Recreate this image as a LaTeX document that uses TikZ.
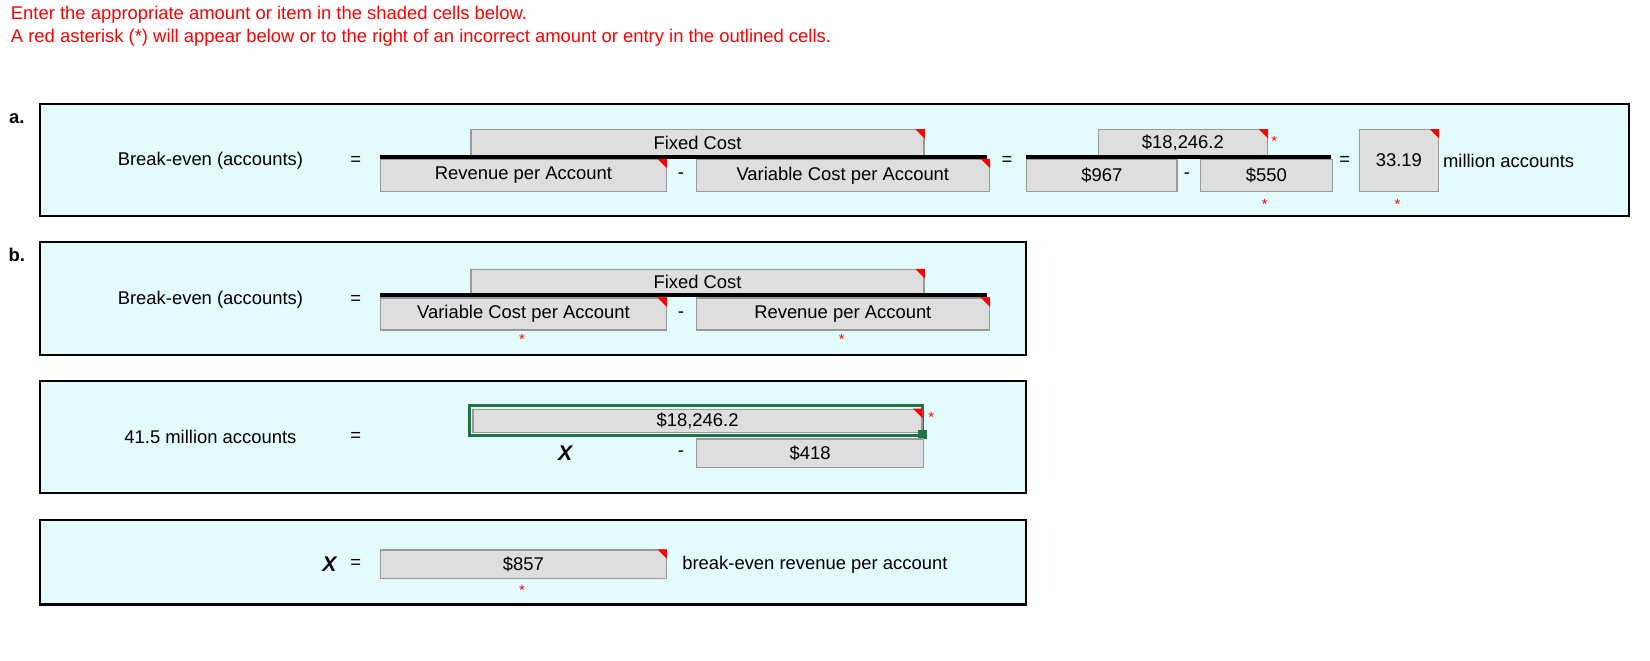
\documentclass[tikz,border=0pt]{standalone}
\usepackage{fontspec}
\setmainfont{Liberation Sans}
\definecolor{bgc}{HTML}{E4FBFD}
\definecolor{cellc}{HTML}{DEDEDE}
\definecolor{grn}{HTML}{217346}
\newcommand\cellbox[6]{\node[cellst,minimum width=#4*0.5pt,minimum height=#5*0.5pt,anchor=north west] (#1) at (#2,#3) {#6};}
\newcommand\corner[1]{\fill[red] (#1.north east) -- ++(-4.5pt,0) -- ++(4.5pt,-4.5pt) -- cycle;}
\begin{document}
\begin{tikzpicture}[x=0.497pt,y=-0.5pt,
  every node/.style={font=\fontsize{8.7}{10}\selectfont,inner sep=0pt},
  cellst/.style={fill=cellc,draw=gray!80,line width=0.6pt},
  panel/.style={fill=bgc,draw=black,line width=1pt},
  bar/.style={line width=2pt},
  ast/.style={text=red,font=\fontsize{7}{8}\selectfont},
  hdr/.style={text=red,anchor=west}]
\useasboundingbox (0,0) rectangle (1568,624);
\fill[white] (0,0) rectangle (1568,624);
\node[hdr] (h1) at (10,14) {Enter the appropriate amount or item in the shaded cells below.};
\node[hdr] (h2) at (10,36) {A red asterisk (*) will appear below or to the right of an incorrect amount or entry in the outlined cells.};
% panel a
\node[font=\fontsize{8.7}{10}\selectfont\bfseries] (la) at (16,112) {a.};
\draw[panel] (38,98) rectangle (1548,204);
\node (bea) at (200,152) {Break-even (accounts)};
\node (eqa1) at (338,152) {=};
\cellbox{fca}{447}{122}{428}{25}{Fixed Cost}\corner{fca}
\draw[bar] (361,148) -- (938,148);
\cellbox{rpa}{361}{150}{270}{30}{Revenue per Account}\corner{rpa}
\node (ma1) at (647,166) {-};
\cellbox{vca}{661}{150}{277}{30}{Variable Cost per Account}\corner{vca}
\node (eqa2) at (957,152) {=};
\cellbox{fcv}{1043}{122}{160}{25}{\$18,246.2}\corner{fcv}
\node[ast] (s1) at (1211,134) {*};
\draw[bar] (975,148) -- (1265,148);
\cellbox{rv}{975}{150}{142}{30}{\$967}
\node (ma2) at (1128,166) {-};
\cellbox{vv}{1140}{150}{125}{30}{\$550}
\node[ast] (s2) at (1202,193) {*};
\node (eqa3) at (1278,152) {=};
\cellbox{res}{1291}{122}{75}{58}{33.19}\corner{res}
\node[ast] (s3) at (1328,193) {*};
\node[anchor=west] (mil) at (1371,152) {million accounts};
% panel b
\node[font=\fontsize{8.7}{10}\selectfont\bfseries] (lb) at (16,241) {b.};
\draw[panel] (38,229) rectangle (975,335);
\node (beb) at (200,283) {Break-even (accounts)};
\node (eqb) at (338,283) {=};
\cellbox{fcb}{447}{254}{428}{24}{Fixed Cost}\corner{fcb}
\draw[bar] (361,279) -- (938,279);
\cellbox{vcb}{361}{281}{270}{30}{Variable Cost per Account}\corner{vcb}
\node (mb) at (647,297) {-};
\cellbox{rpb}{661}{281}{277}{30}{Revenue per Account}\corner{rpb}
\node[ast] (s4) at (496,321) {*};
\node[ast] (s5) at (800,321) {*};
% panel c
\draw[panel] (38,360) rectangle (975,466);
\node (acc) at (200,413) {41.5 million accounts};
\node (eqc) at (338,413) {=};
\draw[grn,line width=1.5pt] (446,383) rectangle (877,411);
\cellbox{fcc}{449}{386}{424}{22}{\$18,246.2}\corner{fcc}
\fill[grn] (872,406) rectangle (881,415);
\node[ast] (s6) at (885,394) {*};
\node[font=\fontsize{10}{10}\selectfont\bfseries\itshape] (xc) at (537,428) {X};
\node (mc) at (647,429) {-};
\cellbox{vc}{661}{414}{215}{27}{\$418}
% panel d
\draw[panel] (38,491) rectangle (975,571);
\node[font=\fontsize{10}{10}\selectfont\bfseries\itshape] (xd) at (313,533) {X};
\node (eqd) at (338,533) {=};
\cellbox{xv}{361}{519}{270}{27}{\$857}\corner{xv}
\node[ast] (s7) at (496,558) {*};
\node[anchor=west] (ber) at (648,533) {break-even revenue per account};
\end{tikzpicture}
\end{document}
